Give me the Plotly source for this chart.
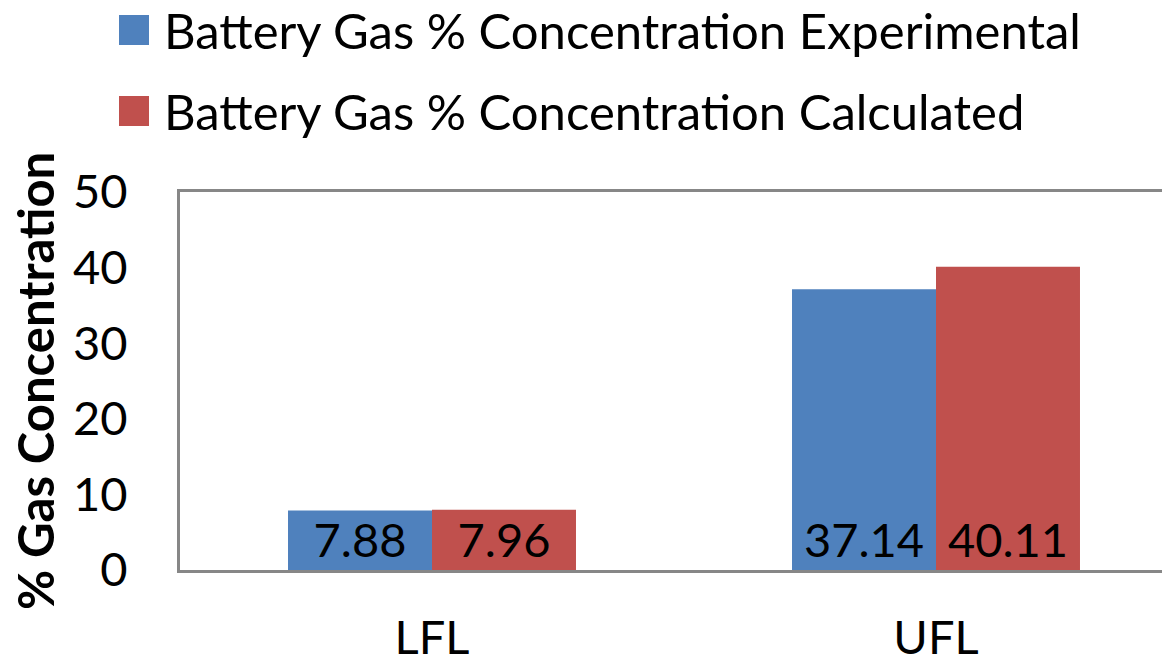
import plotly.graph_objects as go

categories = ["LFL", "UFL"]
experimental = [7.88, 37.14]
calculated = [7.96, 40.11]
series_names = ["Battery Gas % Concentration Experimental",
                "Battery Gas % Concentration Calculated"]
colors = ["#4F81BD", "#C0504D"]
y_ticks = [0, 10, 20, 30, 40, 50]

OFF = 8  # default page body margin
W, H = 1170 - OFF, 655 - OFF
L, T, B, R = 180 - OFF, 192 - OFF, 85, 0
pw, ph = W - L - R, H - T - B

def px_x(px):
    return (px - OFF - L) / pw

def px_y(py):
    return (H - B - (py - OFF)) / ph

FONT = "Lato"
FS = 47
FS_LEG = 49

fig = go.Figure()
for name, vals, col in zip(series_names, [experimental, calculated], colors):
    fig.add_trace(go.Bar(
        x=categories, y=vals, name=name,
        marker=dict(color=col, line=dict(width=0)),
        text=[f"{v:.2f}" for v in vals],
        textposition="inside", insidetextanchor="start",
        constraintext="none",
        textfont=dict(family=FONT, size=FS, color="black"),
        showlegend=False,
    ))

shapes = []
annotations = []
leg_rows = [30, 111]
for name, col, cy in zip(series_names, colors, leg_rows):
    shapes.append(dict(type="rect", xref="paper", yref="paper",
                       x0=px_x(119), x1=px_x(149), y0=px_y(cy + 15), y1=px_y(cy - 15),
                       fillcolor=col, line=dict(width=0)))
    annotations.append(dict(xref="paper", yref="paper", x=px_x(162), y=px_y(cy),
                            xanchor="left", yanchor="middle", showarrow=False,
                            text=name, font=dict(family=FONT, size=FS_LEG, color="black")))

annotations.append(dict(xref="paper", yref="paper", x=px_x(35), y=px_y(381),
                        xanchor="center", yanchor="middle", showarrow=False,
                        textangle=-90, text="<b>% Gas Concentration</b>",
                        font=dict(family=FONT, size=FS_LEG, color="black")))

fig.update_layout(
    template="none",
    width=W, height=H,
    margin=dict(l=L, r=R, t=T, b=B, pad=0),
    paper_bgcolor="white", plot_bgcolor="white",
    barmode="group", bargap=0.4286, bargroupgap=0,
    shapes=shapes, annotations=annotations,
    xaxis=dict(type="category", range=[-0.5, -0.5 + pw / 504], automargin=False,
               showline=True, linecolor="#878787", linewidth=3, mirror=True,
               showgrid=False, ticks="", ticklabelstandoff=25,
               tickfont=dict(family=FONT, size=FS, color="black")),
    yaxis=dict(range=[0, 50], tickvals=y_ticks, automargin=False,
               showline=True, linecolor="#878787", linewidth=3,
               showgrid=False, zeroline=False, ticks="", ticklabelstandoff=40,
               tickfont=dict(family=FONT, size=FS, color="black")),
)

fig.write_html("out.html")
